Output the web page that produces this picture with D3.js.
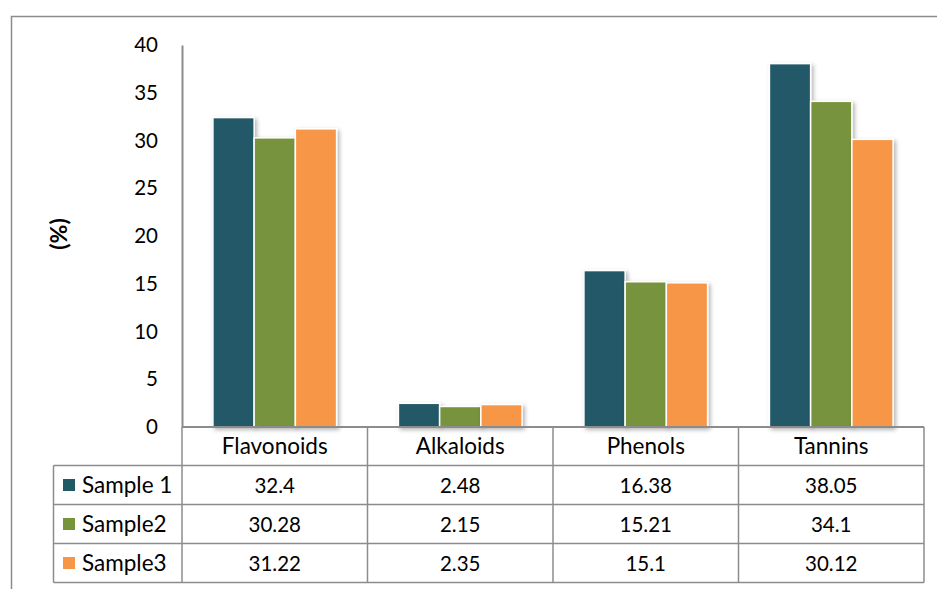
<!DOCTYPE html>
<html><head><meta charset="utf-8">
<script src="https://cdn.jsdelivr.net/npm/d3@7"></script>
<style>body{margin:0;background:#fff}svg{display:block}text{font-family:Lato,"Open Sans",sans-serif;fill:#000}</style>
</head><body>
<script>
const categories = ["Flavonoids","Alkaloids","Phenols","Tannins"];
const seriesNames = ["Sample 1","Sample2","Sample3"];
const sample1 = [32.4, 2.48, 16.38, 38.05];
const sample2 = [30.28, 2.15, 15.21, 34.1];
const sample3 = [31.22, 2.35, 15.1, 30.12];
const yTicks = [0,5,10,15,20,25,30,35,40];
const colors = ["#215967","#77933C","#F79646"];
const seriesVals = [sample1, sample2, sample3];

const W = 937, H = 589;
const svg = d3.select("body").append("svg").attr("width", W).attr("height", H);
const defs = svg.append("defs");
const f = defs.append("filter").attr("id","sh").attr("x","-20%").attr("y","-20%").attr("width","150%").attr("height","150%");
f.append("feDropShadow").attr("dx",2).attr("dy",2).attr("stdDeviation",2).attr("flood-color","#000").attr("flood-opacity",0.3);

// outer border
svg.append("path").attr("d","M11.5,589 L11.5,16.5 L937,16.5").attr("fill","none").attr("stroke","#8c8c8c").attr("stroke-width",1.5);

const x0 = 182, x1 = 924, yTop = 45, yBot = 427;
const x = d3.scaleBand().domain(categories).range([x0, x1]).paddingInner(0).paddingOuter(0);
const xi = d3.scaleBand().domain(seriesNames).range([0, x.bandwidth()]).paddingOuter(0.75).paddingInner(0);
const y = d3.scaleLinear().domain([0,40]).range([yBot, yTop]);

// bars
seriesNames.forEach((s, si) => {
  svg.append("g").attr("filter","url(#sh)").selectAll("rect").data(categories).join("rect")
    .attr("x", c => x(c) + xi(s))
    .attr("y", (c,i) => y(seriesVals[si][i]))
    .attr("width", xi.bandwidth())
    .attr("height", (c,i) => yBot - y(seriesVals[si][i]))
    .attr("fill", colors[si])
    .attr("stroke", "#fff").attr("stroke-width", 1.5);
});

// y axis
const ya = svg.append("g").attr("transform", `translate(${x0},0)`)
  .call(d3.axisLeft(y).tickValues(yTicks).tickSize(0).tickPadding(24));
ya.select(".domain").attr("stroke","#8c8c8c").attr("stroke-width",2);
ya.selectAll("text").style("font-size","20.5px").style("font-family","Lato,'Open Sans',sans-serif").attr("fill","#000");

svg.append("text").attr("transform","translate(67,234) rotate(-90)").attr("text-anchor","middle")
  .style("font-size","23px").style("font-weight","bold").text("(%)");

// table
const rowY = [427, 465.5, 504.5, 543.5, 582.5];
const legL = 53.5;
const g = svg.append("g").attr("stroke","#8c8c8c").attr("stroke-width",1.5).attr("fill","none");
g.append("line").attr("x1",x0).attr("x2",x1).attr("y1",rowY[0]).attr("y2",rowY[0]).attr("stroke-width",2);
for (let r = 1; r < rowY.length; r++) {
  g.append("line").attr("x1",legL).attr("x2",x1).attr("y1",rowY[r]).attr("y2",rowY[r]);
}
const vx = categories.map(c => x(c)).concat([x1]);
vx.forEach(v => g.append("line").attr("x1",v).attr("x2",v).attr("y1",rowY[0]).attr("y2",rowY[4]));
g.append("line").attr("x1",legL).attr("x2",legL).attr("y1",rowY[1]).attr("y2",rowY[4]);

// header labels
svg.append("g").selectAll("text").data(categories).join("text")
  .attr("x", c => x(c) + x.bandwidth()/2).attr("y", (rowY[0]+rowY[1])/2 + 8)
  .attr("text-anchor","middle").style("font-size","22.5px").text(c => c);

// rows
seriesNames.forEach((s, si) => {
  const cy = (rowY[si+1] + rowY[si+2]) / 2;
  svg.append("rect").attr("x",63).attr("y",cy-6).attr("width",12).attr("height",12).attr("fill",colors[si]);
  svg.append("text").attr("x",82).attr("y",cy+8).style("font-size","22.5px").text(s);
  svg.append("g").selectAll("text").data(categories).join("text")
    .attr("x", c => x(c) + x.bandwidth()/2).attr("y", cy + 7.5)
    .attr("text-anchor","middle").style("font-size","20.5px")
    .text((c,i) => String(seriesVals[si][i]));
});
</script>
</body></html>
